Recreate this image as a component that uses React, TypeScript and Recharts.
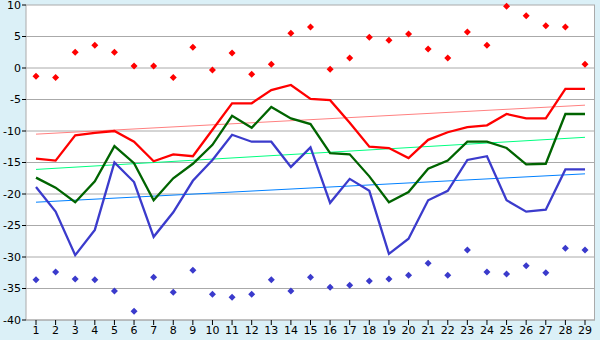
import React from 'react';
import { ComposedChart, Line, XAxis, YAxis, CartesianGrid } from 'recharts';

const days = [1,2,3,4,5,6,7,8,9,10,11,12,13,14,15,16,17,18,19,20,21,22,23,24,25,26,27,28,29];
const maxPts = [-1.3,-1.5,2.5,3.6,2.5,0.3,0.3,-1.5,3.3,-0.3,2.4,-1.0,0.6,5.5,6.5,-0.2,1.6,4.9,4.4,5.4,3.0,1.6,5.7,3.6,9.8,8.3,6.7,6.5,0.6];
const minPts = [-33.6,-32.4,-33.5,-33.6,-35.4,-38.6,-33.2,-35.6,-32.1,-35.9,-36.4,-35.9,-33.6,-35.4,-33.2,-34.8,-34.5,-33.8,-33.5,-32.9,-31.0,-32.9,-28.9,-32.4,-32.7,-31.4,-32.5,-28.6,-28.9];
const highLine = [-14.4,-14.7,-10.7,-10.3,-10.0,-11.7,-14.8,-13.7,-14.0,-9.8,-5.6,-5.6,-3.5,-2.7,-4.9,-5.1,-8.7,-12.5,-12.7,-14.3,-11.4,-10.2,-9.4,-9.1,-7.3,-8.0,-8.0,-3.3,-3.3];
const midLine = [-17.4,-19.0,-21.3,-18.0,-12.4,-15.1,-21.0,-17.5,-15.2,-12.2,-7.6,-9.5,-6.2,-8.0,-8.9,-13.5,-13.7,-17.2,-21.3,-19.7,-16.0,-14.7,-11.7,-11.7,-12.7,-15.3,-15.2,-7.3,-7.3];
const lowLine = [-18.9,-22.8,-29.7,-25.7,-15.0,-18.1,-26.8,-22.9,-17.9,-14.6,-10.6,-11.7,-11.7,-15.7,-12.6,-21.4,-17.6,-19.5,-29.5,-27.1,-21.0,-19.5,-14.6,-14.0,-21.0,-22.8,-22.5,-16.1,-16.1];
const highTrendEnds = [-10.5, -5.9];
const midTrendEnds = [-16.1, -11.0];
const lowTrendEnds = [-21.3, -16.8];
const yTicks = [-40,-35,-30,-25,-20,-15,-10,-5,0,5,10];

const data = days.map((d, i) => ({
  day: d,
  max: maxPts[i],
  min: minPts[i],
  high: highLine[i],
  mid: midLine[i],
  low: lowLine[i],
  highT: i === 0 ? highTrendEnds[0] : i === days.length - 1 ? highTrendEnds[1] : null,
  midT: i === 0 ? midTrendEnds[0] : i === days.length - 1 ? midTrendEnds[1] : null,
  lowT: i === 0 ? lowTrendEnds[0] : i === days.length - 1 ? lowTrendEnds[1] : null,
}));

const makeMarker = (color: string) => (props: any) => {
  const { cx, cy, index } = props;
  if (cx == null || cy == null) return <g key={index} />;
  const r = 3.5;
  return (
    <g key={index}>
      <path d={`M${cx},${cy - r} L${cx + r},${cy} L${cx},${cy + r} L${cx - r},${cy} Z`} fill={color} />
      <rect x={cx - 1.5} y={cy - 1.5} width={3} height={3} fill={color} />
    </g>
  );
};

export default function App() {
  return (
    <div style={{ position: 'absolute', left: 0, top: 0, width: 600, height: 340, background: '#dbf0f7', fontFamily: '"DejaVu Sans", Verdana, sans-serif' }}>
      <ComposedChart width={600} height={340} data={data} margin={{ top: 5, right: 5, left: 0, bottom: 0 }}>
        <CartesianGrid
          fill="#ffffff"
          stroke="#aaaaaa"
          strokeWidth={1}
          vertical={true}
          verticalCoordinatesGenerator={({ offset }: any) => [offset.left + offset.width - 0.5]}
        />
        <XAxis
          dataKey="day"
          type="category"
          height={20}
          padding={{ left: 10, right: 10 }}
          axisLine={{ stroke: '#aaaaaa' }}
          tickLine={{ stroke: '#000000' }}
          tickSize={5}
          tickMargin={1}
          interval={0}
          tick={{ fill: '#000000', fontSize: 11 }}
        />
        <YAxis
          type="number"
          domain={[-40, 10]}
          ticks={yTicks}
          width={26}
          axisLine={{ stroke: '#aaaaaa' }}
          tickLine={{ stroke: '#000000' }}
          tickSize={4}
          tickMargin={1}
          interval={0}
          tick={{ fill: '#000000', fontSize: 11 }}
        />
        <Line dataKey="highT" stroke="#ff8080" strokeWidth={1} dot={false} connectNulls isAnimationActive={false} />
        <Line dataKey="midT" stroke="#00ff80" strokeWidth={1} dot={false} connectNulls isAnimationActive={false} />
        <Line dataKey="lowT" stroke="#0080ff" strokeWidth={1} dot={false} connectNulls isAnimationActive={false} />
        <Line dataKey="low" stroke="#3b3bcc" strokeWidth={2.3} dot={false} type="linear" isAnimationActive={false} />
        <Line dataKey="mid" stroke="#006400" strokeWidth={2.3} dot={false} type="linear" isAnimationActive={false} />
        <Line dataKey="high" stroke="#ff0000" strokeWidth={2.3} dot={false} type="linear" isAnimationActive={false} />
        <Line dataKey="max" stroke="none" strokeWidth={0} dot={makeMarker('#ff0000')} activeDot={false} isAnimationActive={false} />
        <Line dataKey="min" stroke="none" strokeWidth={0} dot={makeMarker('#3b3bcc')} activeDot={false} isAnimationActive={false} />
      </ComposedChart>
    </div>
  );
}
